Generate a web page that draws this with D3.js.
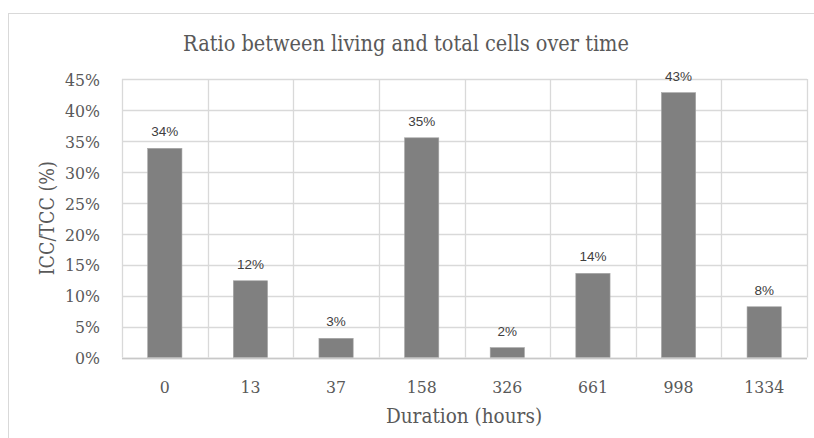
<!DOCTYPE html>
<html>
<head>
<meta charset="utf-8">
<script src="https://cdn.jsdelivr.net/npm/d3@7"></script>
<style>
  html, body { margin: 0; padding: 0; background: #fff; }
  svg { display: block; }
  .serif { font-family: "DejaVu Serif Condensed", "DejaVu Serif", serif; font-stretch: condensed; }
</style>
</head>
<body>
<svg id="chart" width="814" height="438"></svg>
<script>
const categories = ["0", "13", "37", "158", "326", "661", "998", "1334"];
const values = [33.8, 12.4, 3.1, 35.5, 1.6, 13.6, 42.8, 8.2];
const dataLabels = ["34%", "12%", "3%", "35%", "2%", "14%", "43%", "8%"];
const yTicks = [0, 5, 10, 15, 20, 25, 30, 35, 40, 45];
const titleText = "Ratio between living and total cells over time";
const xTitle = "Duration (hours)";
const yTitle = "ICC/TCC (%)";

const svg = d3.select("#chart");
const plot = { left: 122, right: 807, top: 79, bottom: 357.5 };

// outer chart border
svg.append("rect")
  .attr("x", 8.5).attr("y", 13.5)
  .attr("width", 830).attr("height", 450)
  .attr("fill", "#fff").attr("stroke", "#d9d9d9").attr("stroke-width", 1);

const x = d3.scaleBand().domain(categories).range([plot.left, plot.right]).paddingInner(0.6).paddingOuter(0.3);
const xCat = d3.scaleBand().domain(categories).range([plot.left, plot.right]);
const y = d3.scaleLinear().domain([0, 45]).range([plot.bottom, plot.top]);

// horizontal gridlines
svg.append("g").selectAll("line").data(yTicks).join("line")
  .attr("x1", plot.left).attr("x2", plot.right)
  .attr("y1", d => Math.round(y(d)) + 0.5).attr("y2", d => Math.round(y(d)) + 0.5)
  .attr("stroke", "#d9d9d9").attr("stroke-width", 1.3);

// vertical gridlines at category boundaries
const bounds = categories.map(c => xCat(c)).concat([plot.right]);
svg.append("g").selectAll("line").data(bounds).join("line")
  .attr("x1", d => Math.round(d) + 0.5).attr("x2", d => Math.round(d) + 0.5)
  .attr("y1", plot.top).attr("y2", plot.bottom)
  .attr("stroke", "#d9d9d9").attr("stroke-width", 1.3);

// bars
svg.append("g").selectAll("rect").data(values).join("rect")
  .attr("x", (d, i) => x(categories[i]))
  .attr("width", x.bandwidth())
  .attr("y", d => y(d))
  .attr("height", d => plot.bottom - y(d))
  .attr("fill", "#808080")
  .attr("stroke", "#a6a6a6").attr("stroke-width", 0.6);

// baseline
svg.append("line")
  .attr("x1", plot.left).attr("x2", plot.right)
  .attr("y1", Math.round(plot.bottom) + 0.5).attr("y2", Math.round(plot.bottom) + 0.5)
  .attr("stroke", "#c8c8c8").attr("stroke-width", 1.5);

// data labels
svg.append("g").selectAll("text").data(values).join("text")
  .attr("x", (d, i) => x(categories[i]) + x.bandwidth() / 2)
  .attr("y", d => y(d) - 12)
  .attr("text-anchor", "middle")
  .attr("font-family", "'Liberation Sans', Arial, sans-serif")
  .attr("font-size", 13.5)
  .attr("fill", "#404040")
  .text((d, i) => dataLabels[i]);

// y-axis via d3 axis
const yAxis = d3.axisLeft(y).tickValues(yTicks).tickFormat(d => d + "%").tickSize(0).tickPadding(0);
const gy = svg.append("g").attr("transform", `translate(${100},0)`).call(yAxis);
gy.select(".domain").remove();
gy.selectAll("text").attr("class", "serif").attr("font-size", 17.5).attr("fill", "#595959")
  .attr("dy", "0.36em");

// x-axis
const xAxis = d3.axisBottom(xCat).tickSize(0).tickPadding(0);
const gx = svg.append("g").attr("transform", `translate(0,${381})`).call(xAxis);
gx.select(".domain").remove();
gx.selectAll("text").attr("class", "serif").attr("font-size", 17.5).attr("fill", "#595959")
  .attr("dy", "0.71em");
svg.selectAll("g").filter(function(){ return this.hasAttribute("font-family"); }).attr("font-family", null).attr("font-size", null);

// title
svg.append("text").attr("class", "serif")
  .attr("x", 406).attr("y", 51)
  .attr("text-anchor", "middle").attr("font-size", 21.5).attr("fill", "#595959")
  .text(titleText);

// x title
svg.append("text").attr("class", "serif")
  .attr("x", 464).attr("y", 423)
  .attr("text-anchor", "middle").attr("font-size", 20.5).attr("fill", "#595959")
  .text(xTitle);

// y title
svg.append("text").attr("class", "serif")
  .attr("transform", `translate(54,${(plot.top + plot.bottom) / 2}) rotate(-90)`)
  .attr("text-anchor", "middle").attr("font-size", 19.5).attr("fill", "#595959")
  .text(yTitle);
</script>
</body>
</html>
